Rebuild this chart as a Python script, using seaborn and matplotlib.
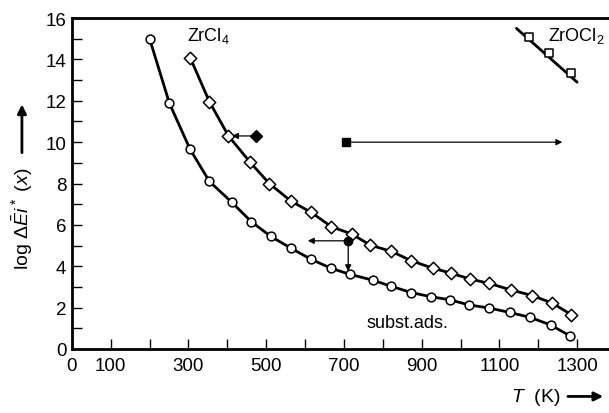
import numpy as np
import pandas as pd
import matplotlib
matplotlib.use("Agg")
import matplotlib.pyplot as plt
import seaborn as sns

# data
T_circle = [200, 251, 304, 354, 411, 462, 512, 565, 614, 666, 715, 774, 822, 873,
            923, 972, 1022, 1074, 1126, 1179, 1232, 1281]
v_circle = [15.0, 11.88, 9.66, 8.1, 7.1, 6.15, 5.44, 4.86, 4.35, 3.91, 3.61, 3.33,
            3.03, 2.73, 2.53, 2.38, 2.13, 1.98, 1.77, 1.53, 1.16, 0.64]

T_diamond = [305, 354, 403, 459, 508, 563, 616, 668, 720, 768, 822, 873, 928, 975,
             1025, 1074, 1129, 1185, 1236, 1285]
v_diamond = [14.06, 11.95, 10.3, 9.02, 8.0, 7.16, 6.6, 5.91, 5.56, 5.02, 4.72, 4.27,
             3.91, 3.67, 3.38, 3.17, 2.86, 2.58, 2.22, 1.66]

T_oxy_line = [1144, 1300]
v_oxy_line = [15.5, 12.9]
T_oxy = [1177, 1227, 1284]
v_oxy = [15.06, 14.3, 13.33]

# filled markers with arrows: (T, value, arrow target T, arrow target value)
filled_diamond = (473, 10.3, 412, 10.3)
filled_square = (706, 10.0, 1262, 10.0)
filled_circle = (711, 5.23, 607, 5.23)
filled_circle_down = (711, 3.76)

xticks = list(range(0, 1400, 100))
xlabels = ["0", "100", "", "300", "", "500", "", "700", "", "900", "", "1100", "", "1300"]
yticks = list(range(0, 17, 2))

df_c = pd.DataFrame({"T": T_circle, "v": v_circle})
df_d = pd.DataFrame({"T": T_diamond, "v": v_diamond})
df_o = pd.DataFrame({"T": T_oxy, "v": v_oxy})
df_ol = pd.DataFrame({"T": T_oxy_line, "v": v_oxy_line})

sns.set_theme(style="ticks")
plt.rcParams["font.family"] = ["Liberation Sans", "DejaVu Sans"]
plt.rcParams["text.color"] = "black"
plt.rcParams["mathtext.fontset"] = "custom"
plt.rcParams["mathtext.rm"] = "Liberation Sans"
plt.rcParams["mathtext.it"] = "Liberation Sans:italic"

fig = plt.figure(figsize=(6.09, 4.14), dpi=100)
ax = fig.add_axes([0.118, 0.1546, 0.882, 0.7994])

lw = 2.0
sns.lineplot(data=df_c, x="T", y="v", color="black", lw=lw, ax=ax, zorder=2)
sns.lineplot(data=df_d, x="T", y="v", color="black", lw=lw, ax=ax, zorder=2)
sns.lineplot(data=df_ol, x="T", y="v", color="black", lw=lw, ax=ax, zorder=2)
sns.scatterplot(data=df_c, x="T", y="v", marker="o", s=40, facecolor="white",
                edgecolor="black", linewidth=1.1, ax=ax, zorder=3)
sns.scatterplot(data=df_d, x="T", y="v", marker="D", s=40, facecolor="white",
                edgecolor="black", linewidth=1.1, ax=ax, zorder=3)
sns.scatterplot(data=df_o, x="T", y="v", marker="s", s=32, facecolor="white",
                edgecolor="black", linewidth=1.1, ax=ax, zorder=3)

# filled points and arrows
ax.plot(filled_diamond[0], filled_diamond[1], marker="D", ms=6, color="black", zorder=4)
ax.plot(filled_square[0], filled_square[1], marker="s", ms=6, color="black", zorder=4)
ax.plot(filled_circle[0], filled_circle[1], marker="o", ms=6, color="black", zorder=4)
arrow = dict(arrowstyle="-|>", color="black", lw=0.9, mutation_scale=9, shrinkA=0, shrinkB=0)
ax.annotate("", xy=(filled_diamond[2], filled_diamond[3]),
            xytext=(filled_diamond[0], filled_diamond[1]), arrowprops=arrow)
ax.annotate("", xy=(filled_square[2], filled_square[3]),
            xytext=(filled_square[0], filled_square[1]), arrowprops=arrow)
ax.annotate("", xy=(filled_circle[2], filled_circle[3]),
            xytext=(filled_circle[0], filled_circle[1]), arrowprops=arrow)
ax.annotate("", xy=filled_circle_down,
            xytext=(filled_circle[0], filled_circle[1]), arrowprops=arrow)

ax.text(295, 15.2, r"ZrCl$_4$", fontsize=13, va="center", ha="left")
ax.text(1224, 15.2, r"ZrOCl$_2$", fontsize=13, va="center", ha="left", clip_on=False)
ax.text(757, 1.3, "subst.ads.", fontsize=13, va="center", ha="left")

ax.set_xlim(0, 1382)
ax.set_ylim(0, 16)
ax.set_xticks(xticks)
ax.set_xticklabels(xlabels)
ax.set_yticks(yticks)
ax.set_yticks(range(1, 16, 2), minor=True)
ax.tick_params(axis="both", which="both", direction="in", length=7, width=1.0,
               labelsize=13.5, colors="black", pad=6)
ax.tick_params(axis="y", pad=4)
for s in ["left", "bottom", "top"]:
    ax.spines[s].set_linewidth(2.0)
    ax.spines[s].set_color("black")
ax.spines["right"].set_visible(False)
ax.set_xlabel("")
ax.set_ylabel("")

# axis labels with arrows
fig.text(0.036, 0.471, r"log $\Delta\bar{E}i^*$ ($x$)", rotation=90, fontsize=14,
         ha="center", va="center")
fig.text(0.92, 0.04, r"$T$  (K)", fontsize=14, ha="right", va="center")
fig.patches.append(matplotlib.patches.FancyArrowPatch(
    (0.036, 0.622), (0.036, 0.752), transform=fig.transFigure, arrowstyle="-|>",
    mutation_scale=13, lw=2, color="black"))
fig.patches.append(matplotlib.patches.FancyArrowPatch(
    (0.928, 0.04), (0.995, 0.04), transform=fig.transFigure, arrowstyle="-|>",
    mutation_scale=13, lw=2, color="black"))

fig.savefig("out.png", dpi=100)
